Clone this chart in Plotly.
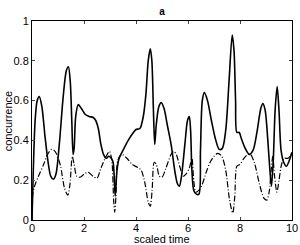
import plotly.graph_objects as go

solid_x = [0.0, 0.05, 0.12, 0.2, 0.28, 0.38, 0.5, 0.62, 0.72, 0.82, 0.92, 1.05, 1.2, 1.32, 1.40, 1.47, 1.53, 1.58, 1.62, 1.68, 1.78, 1.90, 2.05, 2.2, 2.35, 2.45, 2.55, 2.65, 2.75, 2.85, 2.95, 3.05, 3.12, 3.2, 3.27, 3.35, 3.5, 3.7, 3.9, 4.0, 4.15, 4.28, 4.38, 4.47, 4.55, 4.61, 4.67, 4.72, 4.78, 4.88, 4.97, 5.08, 5.2, 5.35, 5.5, 5.6, 5.67, 5.75, 5.88, 5.98, 6.05, 6.1, 6.15, 6.22, 6.32, 6.42, 6.48, 6.55, 6.63, 6.75, 6.9, 7.05, 7.2, 7.32, 7.45, 7.58, 7.70, 7.77, 7.83, 7.88, 7.97, 8.05, 8.2, 8.35, 8.5, 8.65, 8.8, 8.88, 8.97, 9.07, 9.15, 9.21, 9.28, 9.35, 9.43, 9.5, 9.58, 9.68, 9.78, 9.9, 10.0]
solid_y = [0.0, 0.25, 0.5, 0.6, 0.62, 0.57, 0.42, 0.29, 0.22, 0.205, 0.23, 0.38, 0.62, 0.75, 0.77, 0.70, 0.50, 0.33, 0.36, 0.52, 0.58, 0.56, 0.53, 0.52, 0.515, 0.50, 0.46, 0.38, 0.33, 0.31, 0.32, 0.31, 0.29, 0.12, 0.25, 0.31, 0.35, 0.40, 0.44, 0.455, 0.46, 0.52, 0.63, 0.80, 0.86, 0.80, 0.55, 0.38, 0.48, 0.57, 0.59, 0.56, 0.48, 0.38, 0.24, 0.18, 0.17, 0.22, 0.38, 0.50, 0.52, 0.45, 0.25, 0.15, 0.13, 0.13, 0.35, 0.60, 0.64, 0.60, 0.50, 0.41, 0.355, 0.36, 0.45, 0.70, 0.93, 0.85, 0.60, 0.44, 0.44, 0.41, 0.36, 0.33, 0.35, 0.44, 0.56, 0.585, 0.55, 0.40, 0.25, 0.17, 0.30, 0.55, 0.67, 0.55, 0.35, 0.29, 0.27, 0.30, 0.34]

dash_x = [0.0, 0.03, 0.1, 0.25, 0.45, 0.6, 0.75, 0.85, 0.95, 1.1, 1.25, 1.38, 1.46, 1.55, 1.62, 1.72, 1.85, 2.0, 2.15, 2.35, 2.5, 2.65, 2.85, 2.98, 3.07, 3.14, 3.18, 3.23, 3.3, 3.45, 3.65, 3.85, 4.05, 4.2, 4.35, 4.47, 4.55, 4.62, 4.7, 4.78, 4.9, 5.0, 5.15, 5.35, 5.45, 5.55, 5.68, 5.82, 5.92, 6.05, 6.15, 6.22, 6.3, 6.42, 6.55, 6.7, 6.85, 7.0, 7.15, 7.3, 7.45, 7.6, 7.72, 7.8, 7.88, 8.0, 8.15, 8.3, 8.4, 8.55, 8.75, 8.92, 9.03, 9.12, 9.2, 9.26, 9.33, 9.42, 9.5, 9.6, 9.7, 9.85, 10.0]
dash_y = [0.0, 0.13, 0.17, 0.22, 0.28, 0.33, 0.355, 0.35, 0.33, 0.27, 0.16, 0.125, 0.18, 0.32, 0.28, 0.22, 0.215, 0.23, 0.24, 0.22, 0.21, 0.26, 0.32, 0.345, 0.30, 0.10, 0.04, 0.12, 0.30, 0.33, 0.31, 0.28, 0.265, 0.25, 0.18, 0.09, 0.07, 0.15, 0.29, 0.28, 0.22, 0.215, 0.26, 0.33, 0.345, 0.33, 0.27, 0.22, 0.23, 0.26, 0.31, 0.20, 0.14, 0.15, 0.18, 0.24, 0.29, 0.32, 0.335, 0.32, 0.25, 0.10, 0.035, 0.12, 0.27, 0.28, 0.31, 0.33, 0.33, 0.29, 0.18, 0.11, 0.10, 0.14, 0.25, 0.32, 0.22, 0.14, 0.20, 0.28, 0.31, 0.31, 0.34]

x_ticks = [0, 2, 4, 6, 8, 10]
y_ticks = [0, 0.2, 0.4, 0.6, 0.8, 1]
y_tick_text = ["0", "0.2", "0.4", "0.6", "0.8", "1"]

fig = go.Figure()
fig.add_trace(go.Scatter(x=dash_x, y=dash_y, mode="lines",
                         line=dict(color="black", width=1.2, dash="6px,2px,1px,2px", shape="spline", smoothing=0.8)))
fig.add_trace(go.Scatter(x=solid_x, y=solid_y, mode="lines",
                         line=dict(color="black", width=1.6, shape="spline", smoothing=0.8)))

fam = "Liberation Sans, Arial, sans-serif"
font = dict(family=fam, size=10, color="black")
fig.update_layout(
    width=300, height=245,
    margin=dict(l=32, r=8, t=21, b=25, autoexpand=False),
    paper_bgcolor="white", plot_bgcolor="white",
    showlegend=False,
    font=font,
    title=dict(text="<b>a</b>", x=0.54, xanchor="center", y=0.955, yanchor="middle",
               font=dict(family=fam, size=10, color="black")),
)
fig.add_annotation(text="scaled time", xref="paper", yref="paper", x=0.5, y=-0.097,
                   xanchor="center", yanchor="middle", showarrow=False, font=dict(family=fam, size=11, color="black"))
fig.add_annotation(text="concurrence", xref="paper", yref="paper", x=-0.093, y=0.5, textangle=-90,
                   xanchor="center", yanchor="middle", showarrow=False, font=dict(family=fam, size=11, color="black"))
fig.update_xaxes(range=[0, 10], tickvals=x_ticks, ticks="inside", ticklen=3, showline=True,
                 linecolor="black", linewidth=1, mirror="allticks", showgrid=False, zeroline=False,
                 automargin=False, ticklabelstandoff=-2, tickfont=dict(family=fam, size=11, color="black"))
fig.update_yaxes(range=[0, 1], tickvals=y_ticks, ticktext=y_tick_text, ticks="inside", ticklen=3,
                 showline=True, linecolor="black", linewidth=1, mirror="allticks", showgrid=False,
                 zeroline=False, automargin=False, tickfont=dict(family=fam, size=11, color="black"))

fig.write_html("out.html", config={"displayModeBar": False},
               post_script="document.body.style.margin='0';document.body.style.overflow='hidden';")
